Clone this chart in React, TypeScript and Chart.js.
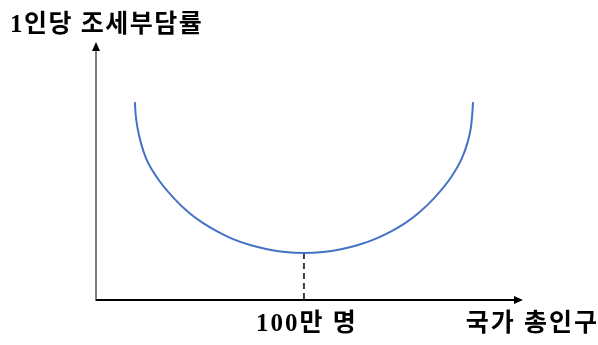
import React, { useEffect, useRef } from "react";
import { Chart, registerables } from "chart.js";

Chart.register(...registerables);

// Curve (abstract units: x 0..100 population, y 0..100 tax burden)
const curveX = [
  9.1, 9.3, 9.7, 10.5, 11.7, 14.2, 18.1, 22.0, 25.1, 28.6, 32.1, 36.1, 40.1, 44.3,
  48.7,
  53.2, 57.4, 61.4, 65.3, 68.9, 72.4, 75.4, 79.3, 83.2, 85.7, 87.0, 87.8, 88.1, 88.3,
];
const curveY = [
  76.7, 71.7, 66.9, 61.0, 55.0, 47.7, 39.7, 33.5, 29.8, 26.4, 23.6, 21.3, 19.7, 18.6,
  18.2,
  18.6, 19.7, 21.3, 23.6, 26.4, 29.8, 33.5, 39.7, 47.7, 55.0, 61.0, 66.9, 71.7, 76.7,
];
const markerX = [48.7, 48.7];
const markerY = [18.2, 0];

const yAxisTitle = "1인당 조세부담률";
const xAxisTitle = "국가 총인구";
const markerLabel = "100만 명";

const FONT = "bold 25px 'Liberation Serif', 'Noto Sans CJK KR'";

const decorPlugin = {
  id: "decor",
  afterDatasetsDraw(chart: any) {
    const { ctx, chartArea, scales } = chart;
    const { left, right, top, bottom } = chartArea;
    ctx.save();
    // y axis (gray)
    ctx.strokeStyle = "#7f7f7f";
    ctx.lineWidth = 2;
    ctx.beginPath();
    ctx.moveTo(left, bottom + 1);
    ctx.lineTo(left, top + 8);
    ctx.stroke();
    ctx.fillStyle = "#000";
    ctx.beginPath();
    ctx.moveTo(left, top);
    ctx.lineTo(left - 4, top + 9);
    ctx.lineTo(left + 4, top + 9);
    ctx.closePath();
    ctx.fill();
    // x axis (black)
    ctx.strokeStyle = "#000";
    ctx.beginPath();
    ctx.moveTo(left, bottom);
    ctx.lineTo(right - 8, bottom);
    ctx.stroke();
    ctx.beginPath();
    ctx.moveTo(right, bottom);
    ctx.lineTo(right - 9, bottom - 4);
    ctx.lineTo(right - 9, bottom + 4);
    ctx.closePath();
    ctx.fill();
    // texts
    ctx.fillStyle = "#000";
    ctx.textBaseline = "alphabetic";
    ctx.font = "bold 25px 'Liberation Serif', 'Noto Sans CJK KR'";
    (ctx as any).letterSpacing = "1.5px";
    ctx.textAlign = "left";
    ctx.fillText(yAxisTitle, 10, 32);
    ctx.font = FONT;
    (ctx as any).letterSpacing = "2px";
    ctx.textAlign = "center";
    ctx.fillText(markerLabel, scales.x.getPixelForValue(markerX[0]) + 3, 331);
    ctx.textAlign = "right";
    ctx.fillText(xAxisTitle, 599, 331);
    ctx.restore();
  },
};

export default function App() {
  const ref = useRef<HTMLCanvasElement | null>(null);
  useEffect(() => {
    document.body.style.margin = "0";
    const canvas = ref.current!;
    const chart = new Chart(canvas, {
      type: "line",
      data: {
        datasets: [
          {
            data: curveX.map((x, i) => ({ x, y: curveY[i] })),
            borderColor: "#4472C4",
            borderWidth: 2,
            pointRadius: 0,
            cubicInterpolationMode: "monotone",
            fill: false,
          },
          {
            data: markerX.map((x, i) => ({ x, y: markerY[i] })),
            borderColor: "#404040",
            borderWidth: 2,
            borderDash: [6, 4],
            pointRadius: 0,
            fill: false,
          },
        ],
      },
      options: {
        animation: false,
        responsive: false,
        layout: { padding: { left: 96, right: 75, top: 42, bottom: 45 } },
        plugins: { legend: { display: false }, tooltip: { enabled: false }, title: { display: false } },
        scales: {
          x: { type: "linear", min: 0, max: 100, display: false },
          y: { type: "linear", min: 0, max: 100, display: false },
        },
      },
      plugins: [decorPlugin],
    });
    return () => chart.destroy();
  }, []);
  return (
    <div style={{ width: 598, height: 345, background: "#fff" }}>
      <canvas ref={ref} width={598} height={345} style={{ display: "block" }} />
    </div>
  );
}
